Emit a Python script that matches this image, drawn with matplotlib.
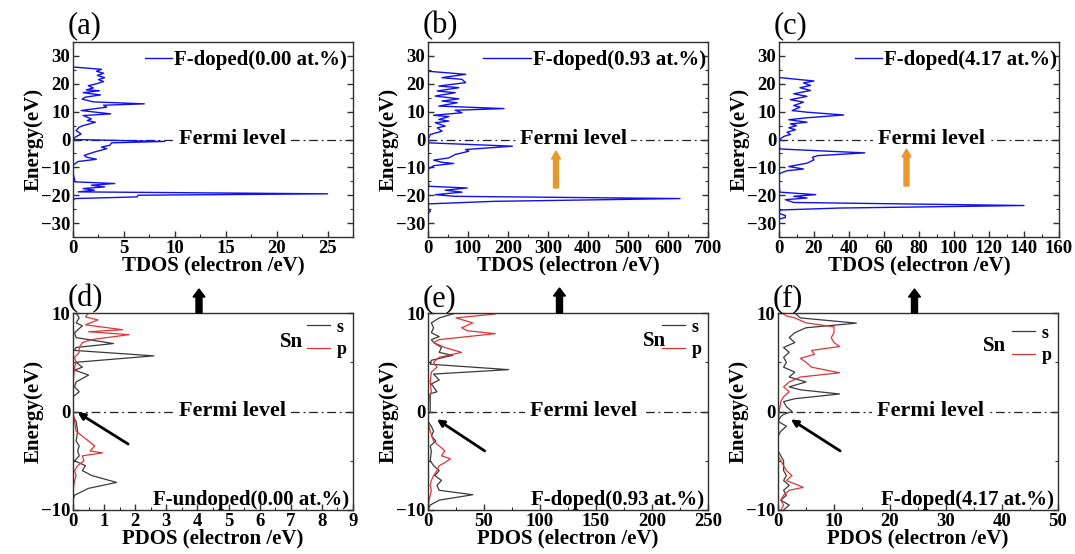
import matplotlib
matplotlib.use("Agg")
import matplotlib.pyplot as plt
from matplotlib.ticker import MultipleLocator
from matplotlib.patches import FancyArrow

plt.rcParams['font.family'] = ['Liberation Serif', 'DejaVu Serif']
plt.rcParams['font.weight'] = 'bold'
plt.rcParams['mathtext.default'] = 'regular'

# ---------------- data: TDOS (energy in eV, DOS in electron/eV) ----------------
e_a = [26.0, 25.2, 24.5, 23.8, 23.0, 22.2, 21.5, 20.8, 20.0, 19.3, 18.5, 17.8, 17.5, 16.8,
       16.0, 15.2, 14.5, 13.5, 12.8, 12.3, 11.6, 10.4, 9.2, 8.6, 7.4, 6.8, 6.2, 5.0, 4.4,
       3.2, 2.0, 0.8, 0.0, -0.7, -1.2, -2.1, -2.7, -3.3, -4.5, -5.7, -6.3, -7.1, -7.9, -8.7,
       -9.2, -12.0, -15.2, -15.8, -16.4, -17.0, -17.6, -18.2, -18.8, -19.5, -20.0, -20.6, -21.2, -22.0]
tdos_a = [0.1, 2.8, 2.3, 3.0, 2.4, 3.1, 2.5, 3.0, 2.3, 1.5, 2.0, 1.3, 2.6, 1.0,
          2.7, 1.2, 0.9, 2.0, 7.0, 3.0, 3.3, 0.8, 3.7, 1.0, 1.8, 1.4, 2.2, 1.0, 0.6,
          0.3, 0.8, 0.2, 0.0, 9.0, 3.8, 3.6, 2.8, 3.3, 2.1, 1.1, 1.3, 2.3, 0.5, 0.2,
          0.0, 0.0, 0.2, 4.1, 1.8, 3.1, 1.0, 2.1, 0.5, 25.0, 6.4, 6.3, 0.2, 0.0]

e_b = [24.5, 23.4, 22.2, 21.6, 20.4, 19.2, 18.6, 17.4, 16.8, 15.6, 14.6, 13.8, 13.2, 12.0,
       11.1, 10.5, 9.6, 8.7, 8.2, 7.2, 6.6, 6.0, 4.8, 4.2, 3.0, 1.8, 0.6, 0.0, -1.2, -2.4,
       -3.6, -4.2, -5.4, -6.6, -7.4, -8.2, -8.6, -9.4, -10.2, -10.7, -14.0, -16.8, -17.4,
       -18.2, -18.9, -19.8, -20.4, -21.2, -22.2, -23.1, -24.5, -25.8, -26.5]
tdos_b = [0, 94, 35, 85, 94, 27, 77, 23, 68, 18, 77, 35, 73, 27,
          190, 68, 85, 14, 52, 27, 52, 18, 43, 23, 35, 6, 2, 0, 2, 211,
          94, 102, 68, 52, 14, 35, 64, 14, 6, 0, 0, 2, 98,
          43, 85, 18, 68, 630, 165, 2, 0, 6, 0]

e_c = [22.2, 21.0, 20.3, 19.4, 18.6, 17.6, 16.4, 15.5, 14.3, 13.4, 12.2, 11.6, 10.4, 9.8,
       8.8, 7.8, 7.1, 6.2, 5.6, 5.0, 4.2, 3.5, 2.6, 1.8, 1.1, 0.2, -1.0, -3.4, -4.8, -5.8,
       -6.4, -7.3, -8.5, -9.7, -10.6, -11.2, -12.1, -12.8, -16.0, -18.9, -19.8, -20.4, -21.0,
       -21.6, -22.6, -23.7, -24.6, -25.3, -26.5, -27.3, -28.0, -28.5, -29.0]
tdos_c = [0.8, 20, 14, 18, 12, 18, 8.4, 16, 6.5, 14, 8.4, 12, 7.5, 16,
          37, 16, 5.6, 16, 6.5, 10, 5.6, 9.4, 4.6, 6.5, 2.7, 0.8, 0, 0.5, 49, 22,
          19, 20, 16, 5.6, 14, 4.6, 0.8, 0, 0, 0.5, 21, 8.4, 16,
          3.6, 8.4, 140, 35, 0.8, 0, 3.6, 3.6, 0.5, 0]

# ---------------- data: Sn PDOS (s and p) ----------------
e_d_s = [10.0, 9.5, 9.0, 8.7, 8.0, 7.5, 6.9, 6.5, 6.2, 5.65, 5.0, 4.5, 4.2, 3.7, 3.0, 2.5,
         2.0, 1.5, 0.0, -0.5, -1.0, -2.0, -3.0, -3.5, -4.0, -4.5, -5.0, -5.5, -6.0, -6.5,
         -7.2, -7.8, -8.5, -9.0, -10.0]
pdos_d_s = [0.1, 0.2, 0.1, 0.3, 0.05, 0.1, 1.3, 0.1, 0.05, 2.6, 0.1, 0.3, 0.05, 0.5, 0.1, 0.05,
            0.2, 0.0, 0.0, 0.0, 0.1, 0.15, 0.1, 0.2, 0.15, 0.2, 0.05, 0.4, 0.3, 0.6,
            1.4, 0.5, 0.05, 0.0, 0.0]
e_d_p = [10.0, 9.6, 9.3, 8.8, 8.3, 8.1, 7.8, 7.3, 7.0, 6.5, 6.0, 5.5, 5.0, 4.5, 3.0, 0.0,
         -1.0, -2.0, -2.5, -3.0, -3.5, -4.0, -4.2, -4.5, -5.0, -5.5, -6.0, -6.5, -7.0, -8.0, -10.0]
pdos_d_p = [0.5, 0.4, 0.8, 0.4, 1.6, 0.5, 1.8, 0.6, 0.3, 0.2, 0.2, 0.05, 0.1, 0.05, 0.0, 0.0,
            0.05, 0.1, 0.3, 0.5, 0.7, 0.55, 0.95, 0.3, 0.35, 0.15, 0.05, 0.1, 0.05, 0.0, 0.0]

e_e_s = [10.0, 9.5, 9.0, 8.5, 8.0, 7.6, 7.3, 7.0, 6.5, 6.0, 5.7, 5.2, 4.8, 4.25, 3.8, 3.2,
         2.8, 2.0, 1.8, 0.5, 0.0, -0.3, -1.0, -1.5, -2.0, -2.5, -3.0, -3.5, -4.0, -5.0,
         -5.5, -6.0, -6.5, -7.0, -7.5, -8.0, -8.45, -9.0, -9.5, -10.0]
pdos_e_s = [25, 10, 3, 5, 3, 10, 3, 5, 12, 10, 22, 3, 2, 72, 5, 10,
            3, 8, 2, 2, 2, 0, 0, 3, 5, 3, 7, 2, 3, 2,
            5, 10, 6, 12, 8, 10, 40, 10, 2, 0]
e_e_p = [9.9, 9.5, 9.0, 8.5, 8.2, 7.9, 7.3, 7.0, 6.5, 6.0, 5.5, 5.0, 4.5, 4.0, 3.0, 2.0,
         1.5, 0.0, -1.0, -2.0, -3.0, -3.5, -4.0, -4.5, -4.8, -5.2, -5.5, -6.0, -6.5, -7.0,
         -7.5, -8.0, -9.0, -10.0]
pdos_e_p = [60, 25, 40, 30, 35, 60, 10, 5, 15, 30, 10, 5, 8, 3, 2, 3,
            1, 0, 0, 2, 5, 10, 15, 12, 20, 15, 10, 8, 5, 3,
            2, 3, 1, 0]

e_f_s = [10.0, 9.5, 8.97, 8.5, 8.0, 7.5, 7.0, 6.5, 6.0, 5.5, 5.0, 4.5, 4.0, 3.5, 3.0, 2.5,
         2.2, 1.78, 1.3, 1.0, 0.5, 0.0, -0.3, -0.5, -1.0, -1.5, -2.0, -2.5, -4.0, -5.0,
         -6.0, -6.5, -7.0, -7.5, -8.0, -8.5, -9.0, -9.5, -10.0]
pdos_f_s = [3, 4, 14, 5, 3, 2, 3, 1, 2, 1, 1.5, 1, 3, 2, 5, 2,
            4, 11, 3, 1, 1.5, 2.5, 1, 0.5, 0, 1.5, 0.5, 0, 0, 1,
            1, 1.5, 1, 2, 1, 1.5, 0.5, 2, 1]
e_f_p = [9.9, 9.7, 9.5, 9.0, 8.6, 8.0, 7.5, 7.0, 6.6, 6.2, 5.8, 5.4, 5.0, 4.5, 3.93, 3.5,
         3.0, 2.5, 2.0, 1.5, 1.0, 0.0, -1.0, -4.5, -5.0, -6.0, -6.5, -7.0, -7.7, -8.0,
         -8.5, -9.0, -9.5, -10.0]
pdos_f_p = [1, 1.5, 3, 5, 10, 10, 9.5, 10, 11, 6, 6.5, 4, 5, 6, 11, 4,
            2, 1, 2, 1, 0.5, 0.2, 0, 0, 0.5, 1.5, 2.5, 1.5, 4.5, 2,
            1, 0.5, 1, 0.5]

top_labels = ['(a)', '(b)', '(c)']
top_legends = ['F-doped(0.00 at.%)', 'F-doped(0.93 at.%)', 'F-doped(4.17 at.%)']
bot_labels = ['(d)', '(e)', '(f)']
bot_notes = ['F-undoped(0.00 at.%)', 'F-doped(0.93 at.%)', 'F-doped(4.17 at.%)']

W, H = 1075, 554
fig = plt.figure(figsize=(W / 100, H / 100), dpi=100)


def px_rect(l, t, r, b):
    return [l / W, 1 - b / H, (r - l) / W, (b - t) / H]


tick_fs = 13.5
lab_fs = 15
spine_c = '#303030'


def style_axes(ax, xmaj, xmin, ymaj, ymin):
    ax.xaxis.set_major_locator(MultipleLocator(xmaj))
    ax.xaxis.set_minor_locator(MultipleLocator(xmin))
    ax.yaxis.set_major_locator(MultipleLocator(ymaj))
    ax.yaxis.set_minor_locator(MultipleLocator(ymin))
    ax.tick_params(which='both', direction='in', right=True, top=False,
                   labelsize=tick_fs, pad=2, color=spine_c)
    ax.tick_params(which='major', length=4, width=1)
    ax.tick_params(which='minor', length=2, width=0.8)
    for s in ax.spines.values():
        s.set_color(spine_c)
        s.set_linewidth(1.0)


def fermi(ax, xfrac, pad):
    ax.axhline(0, color='#222222', lw=0.9, ls=(0, (7, 3, 1.5, 3)), zorder=1)
    ax.text(xfrac, 0, 'Fermi level', transform=ax.get_yaxis_transform(),
            ha='center', va='center', fontsize=16, fontweight='bold', zorder=3,
            bbox=dict(facecolor='white', edgecolor='none', pad=pad))


# ---------------- top row ----------------
top_lefts = [73, 428, 779]
top_data = [(e_a, tdos_a, 27.5, 5, 2.5), (e_b, tdos_b, 700, 100, 50), (e_c, tdos_c, 160, 20, 10)]
fermi_top = [0.571, 0.52, 0.543]
top_handle = [1.3, 2.3, 1.3]
top_leg_x = [0.985, 1.0, 1.0]
for i, (e, d, xmax, xmaj, xmin) in enumerate(top_data):
    L = top_lefts[i]
    ax = fig.add_axes(px_rect(L, 42, L + 280, 237))
    ax.plot(d, e, color='#1010F0', lw=1.0, label=top_legends[i], zorder=2)
    ax.set_xlim(0, xmax)
    ax.set_ylim(-35, 35)
    style_axes(ax, xmaj, xmin, 10, 5)
    fermi(ax, fermi_top[i], 3)
    ax.set_xlabel('TDOS (electron /eV)', fontsize=lab_fs, fontweight='bold', labelpad=-1)
    ax.set_ylabel('Energy(eV)', fontsize=lab_fs, fontweight='bold', labelpad=-2)
    ax.legend(loc='upper right', frameon=False, fontsize=15, handlelength=top_handle[i],
              handletextpad=0.1, borderaxespad=0.0, borderpad=0.1,
              bbox_to_anchor=(top_leg_x[i], 0.97))
    ax.text(-0.02, 1.01, top_labels[i], transform=ax.transAxes, fontsize=22,
            fontweight='normal', ha='left', va='bottom')

# orange arrows (b), (c)
for xp, tip, tail in [(556, 151, 188), (906.5, 149, 186)]:
    fig.add_artist(FancyArrow(xp / 100, (H - tail) / 100, 0, (tail - tip) / 100,
                              width=0.05, head_width=0.09, head_length=0.08,
                              length_includes_head=True, color='#E8992C',
                              transform=fig.dpi_scale_trans))

# ---------------- bottom row ----------------
bot_lefts = [73, 428, 778]
bot_data = [(e_d_s, pdos_d_s, e_d_p, pdos_d_p, 9, 1, 0.5),
            (e_e_s, pdos_e_s, e_e_p, pdos_e_p, 250, 50, 25),
            (e_f_s, pdos_f_s, e_f_p, pdos_f_p, 50, 10, 5)]
fermi_bot = [0.568, 0.557, 0.546]
sn_pos = [(0.78, 0.853), (0.81, 0.86), (0.775, 0.83)]
leg_anchor = [(0.985, 0.98), (0.985, 0.98), (0.985, 0.95)]
arrow_diag = [((1.77, -3.3), (0.15, -0.1)), ((50.6, -4.0), (8, -0.8)), ((11.1, -4.0), (2.3, -0.8))]
for i, (es, ds, ep, dp, xmax, xmaj, xmin) in enumerate(bot_data):
    L = bot_lefts[i]
    ax = fig.add_axes(px_rect(L, 313, L + 280, 510))
    ax.plot(ds, es, color='#3a3a3a', lw=0.9, label='s', zorder=2)
    ax.plot(dp, ep, color='#E03535', lw=0.9, label='p', zorder=2)
    ax.set_xlim(0, xmax)
    ax.set_ylim(-10, 10)
    style_axes(ax, xmaj, xmin, 10, 5)
    fermi(ax, fermi_bot[i], 4)
    ax.set_xlabel('PDOS (electron /eV)', fontsize=lab_fs, fontweight='bold', labelpad=-1)
    ax.set_ylabel('Energy(eV)', fontsize=lab_fs, fontweight='bold', labelpad=-2)
    ax.legend(loc='upper right', frameon=False, fontsize=13, handlelength=1.25,
              handletextpad=0.4, labelspacing=0.3, borderaxespad=0.0, borderpad=0.1,
              bbox_to_anchor=leg_anchor[i])
    ax.text(sn_pos[i][0], sn_pos[i][1], 'Sn', transform=ax.transAxes, fontsize=15,
            fontweight='bold', ha='center', va='center')
    ax.text(0.985, 0.05, bot_notes[i], transform=ax.transAxes, fontsize=15,
            fontweight='bold', ha='right', va='center')
    ax.text(-0.02, 1.0, bot_labels[i], transform=ax.transAxes, fontsize=22,
            fontweight='normal', ha='left', va='bottom')
    (x0, y0), (x1, y1) = arrow_diag[i]
    ax.annotate('', xy=(x1, y1), xytext=(x0, y0),
                arrowprops=dict(arrowstyle='-|>', color='black', lw=2, mutation_scale=10,
                                shrinkA=0, shrinkB=0))

# black arrows above bottom panels
for xp, tip in [(199, 289), (559.5, 288), (914.5, 289)]:
    tail = 313
    fig.add_artist(FancyArrow(xp / 100, (H - tail) / 100, 0, (tail - tip) / 100,
                              width=0.06, head_width=0.12, head_length=0.08,
                              length_includes_head=True, color='black',
                              transform=fig.dpi_scale_trans))

fig.canvas.draw()
for a in fig.axes:
    for lab in a.get_xticklabels() + a.get_yticklabels():
        lab.set_fontweight('bold')

fig.savefig('out.png', dpi=100)
